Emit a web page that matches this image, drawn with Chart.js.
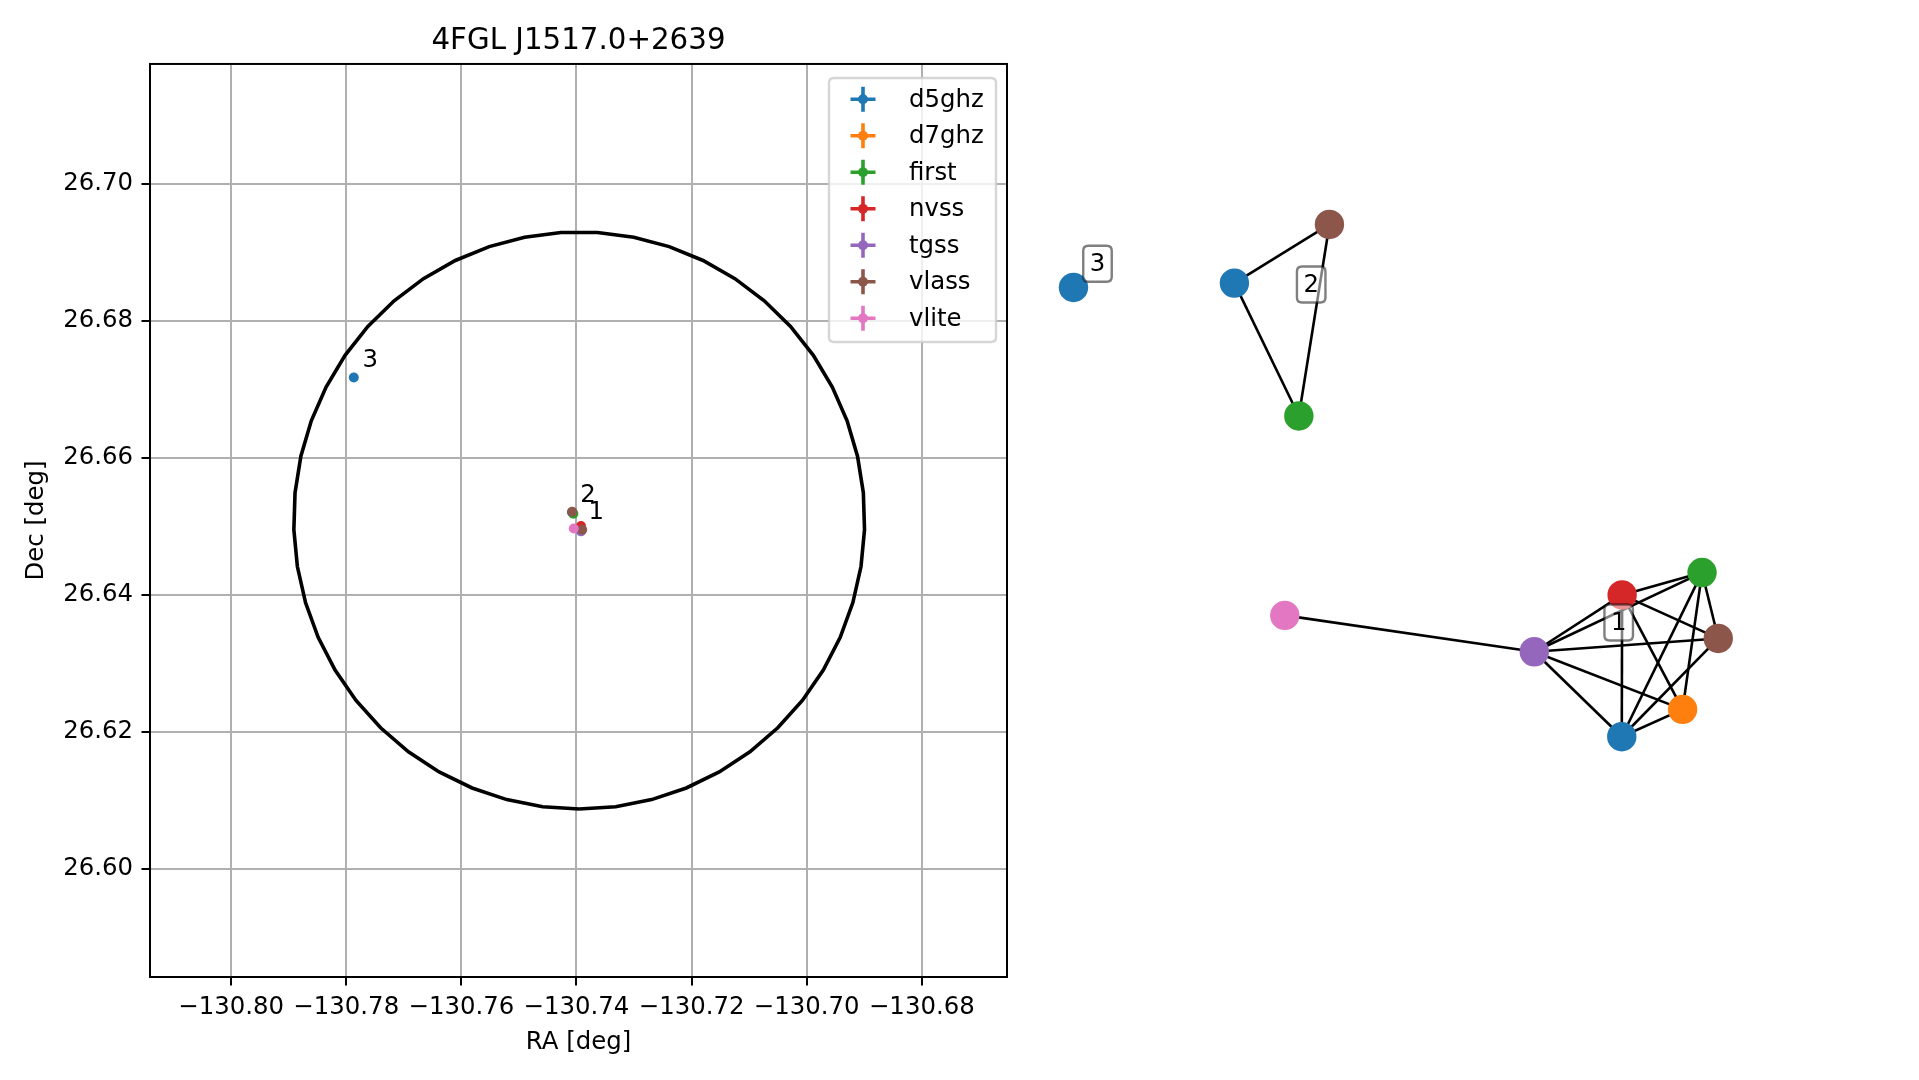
<!DOCTYPE html>
<html>
<head>
<meta charset="utf-8">
<script src="https://cdn.jsdelivr.net/npm/chart.js@4.4.1/dist/chart.umd.min.js"></script>
<style>
  body { margin: 0; background: #fff; }
  #wrap { position: relative; width: 1919px; height: 1080px; }
  canvas { position: absolute; top: 0; }
</style>
</head>
<body>
<div id="wrap">
  <canvas id="graph" width="889" height="1080" style="left:1030px"></canvas>
  <canvas id="sky" width="1030" height="1080" style="left:0"></canvas>
</div>
<script>
const FONT = "'DejaVu Sans', sans-serif";

// surveys and their colours
const surveys = ['d5ghz', 'd7ghz', 'first', 'nvss', 'tgss', 'vlass', 'vlite'];
const surveyColors = ['#1f77b4', '#ff7f0e', '#2ca02c', '#d62728', '#9467bd', '#8c564b', '#e377c2'];

// radio sources: survey, group, sky position, position in the graph layout
const srcSurvey = ['d5ghz', 'd7ghz', 'first', 'nvss', 'tgss', 'vlass', 'vlite', 'd5ghz', 'first', 'vlass', 'd5ghz'];
const srcGroup  = [1, 1, 1, 1, 1, 1, 1, 2, 2, 2, 3];
const srcRA  = [-130.73939, -130.73931, -130.73922, -130.73922, -130.73922, -130.73901, -130.74047, -130.74078, -130.74054, -130.74075, -130.77869];
const srcDec = [26.64958, 26.64950, 26.64972, 26.65004, 26.64926, 26.64950, 26.64968, 26.65206, 26.65182, 26.65212, 26.67172];
const nodeX = [0.616, 0.785, 0.839, 0.617, 0.373, 0.884, -0.320, -0.460, -0.281, -0.196, -0.907];
const nodeY = [-0.602, -0.526, -0.146, -0.208, -0.366, -0.329, -0.265, 0.658, 0.289, 0.821, 0.646];

// graph edges (indices into the source arrays)
const edgeFrom = [6, 4, 4, 4, 4, 4, 3, 3, 3, 3, 2, 2, 2, 5, 1, 7, 7, 9];
const edgeTo   = [4, 3, 2, 5, 1, 0, 2, 5, 1, 0, 5, 1, 0, 0, 0, 9, 8, 8];

// group labels
const groupNames = ['1', '2', '3'];
const labelRA  = [-130.73658, -130.73800, -130.77584];
const labelDec = [26.65225, 26.65471, 26.67443];
const labelX = [0.6075, -0.2467, -0.8403];
const labelY = [-0.2847, 0.6542, 0.7117];

// 4FGL error circle
const circleRA = -130.73953, circleDec = 26.65085;
const circleRadRA = 0.0496, circleRadDec = 0.04213;
const circleSegments = 49;

// axes
const raTicks = [-130.80, -130.78, -130.76, -130.74, -130.72, -130.70, -130.68];
const decTicks = [26.60, 26.62, 26.64, 26.66, 26.68, 26.70];
const raRange = [-130.8141, -130.6652];
const decRange = [26.5842, 26.7175];

const fmt = v => v.toFixed(2).replace('-', '\u2212');

// ---------- left: sky plot ----------
const circlePts = [];
for (let k = 0; k <= circleSegments; k++) {
  const t = 2 * Math.PI * k / circleSegments;
  circlePts.push({ x: circleRA + circleRadRA * Math.sin(t), y: circleDec - circleRadDec * Math.cos(t) });
}

const skyDatasets = surveys.map((s, i) => ({
  label: s,
  data: srcSurvey.map((v, j) => v === s ? { x: srcRA[j], y: srcDec[j] } : null).filter(p => p),
  backgroundColor: surveyColors[i],
  borderWidth: 0,
  pointRadius: 5,
  order: surveys.length - i
}));
skyDatasets.push({
  label: 'circle',
  data: circlePts,
  showLine: true,
  borderColor: '#000',
  borderWidth: 3.6,
  pointRadius: 0,
  order: 20
});

const frame = {
  id: 'frame',
  afterDatasetsDraw(chart) {
    const { ctx, chartArea: a } = chart;
    ctx.save();
    ctx.strokeStyle = '#000';
    ctx.lineWidth = 2;
    ctx.strokeRect(a.left, a.top, a.right - a.left, a.bottom - a.top);
    ctx.restore();
  }
};

const skyLabels = {
  id: 'skyLabels',
  afterDatasetsDraw(chart) {
    const { ctx, scales: { x, y } } = chart;
    ctx.save();
    ctx.font = '24.4px ' + FONT;
    ctx.fillStyle = '#000';
    ctx.textAlign = 'center';
    ctx.textBaseline = 'middle';
    groupNames.forEach((g, i) => ctx.fillText(g, x.getPixelForValue(labelRA[i]), y.getPixelForValue(labelDec[i]) + 2));
    ctx.restore();
  }
};

function roundRect(ctx, x, y, w, h, r) {
  ctx.beginPath();
  ctx.moveTo(x + r, y);
  ctx.lineTo(x + w - r, y);
  ctx.quadraticCurveTo(x + w, y, x + w, y + r);
  ctx.lineTo(x + w, y + h - r);
  ctx.quadraticCurveTo(x + w, y + h, x + w - r, y + h);
  ctx.lineTo(x + r, y + h);
  ctx.quadraticCurveTo(x, y + h, x, y + h - r);
  ctx.lineTo(x, y + r);
  ctx.quadraticCurveTo(x, y, x + r, y);
  ctx.closePath();
}

const skyLegend = {
  id: 'skyLegend',
  afterDraw(chart) {
    const { ctx, chartArea: a } = chart;
    const w = 167, h = 264;
    const left = a.right - 11 - w, top = a.top + 14;
    ctx.save();
    roundRect(ctx, left, top, w, h, 5);
    ctx.fillStyle = 'rgba(255,255,255,0.8)';
    ctx.fill();
    ctx.strokeStyle = 'rgba(204,204,204,0.8)';
    ctx.lineWidth = 2.4;
    ctx.stroke();
    ctx.font = '24.4px ' + FONT;
    ctx.textBaseline = 'middle';
    ctx.textAlign = 'left';
    surveys.forEach((s, i) => {
      const cy = top + 21.3 + i * 36.5;
      const cx = left + 34;
      ctx.strokeStyle = surveyColors[i];
      ctx.fillStyle = surveyColors[i];
      ctx.lineWidth = 3.6;
      ctx.beginPath();
      ctx.moveTo(cx - 12.5, cy); ctx.lineTo(cx + 12.5, cy);
      ctx.moveTo(cx, cy - 12.5); ctx.lineTo(cx, cy + 12.5);
      ctx.stroke();
      ctx.beginPath();
      ctx.arc(cx, cy, 5, 0, 2 * Math.PI);
      ctx.fill();
      ctx.fillStyle = '#000';
      ctx.fillText(s, left + 80, cy + 1);
    });
    ctx.restore();
  }
};

const axisCommon = {
  type: 'linear',
  grid: { color: '#b0b0b0', lineWidth: 2, tickLength: 8.5, tickColor: '#000', tickWidth: 2 },
  border: { display: true, color: '#000', width: 2 },
  ticks: { color: '#000', font: { family: FONT, size: 24.4 }, callback: v => fmt(v) }
};

new Chart(document.getElementById('sky'), {
  type: 'scatter',
  data: { datasets: skyDatasets },
  options: {
    responsive: false,
    animation: false,
    layout: { autoPadding: false, padding: { left: 0, right: 23, top: 0, bottom: 0 } },
    plugins: {
      legend: { display: false },
      tooltip: { enabled: false },
      title: {
        display: true,
        text: '4FGL J1517.0+2639',
        fullSize: false,
        color: '#000',
        font: { family: FONT, size: 29.3, weight: 'normal' },
        padding: { top: 23.8, bottom: 5 }
      }
    },
    scales: {
      x: {
        ...axisCommon,
        min: raRange[0], max: raRange[1],
        ticks: { ...axisCommon.ticks, padding: 8, maxRotation: 0 },
        afterBuildTicks: s => { s.ticks = raTicks.map(v => ({ value: v })); },
        afterFit: s => { s.height = 103; },
        title: { display: true, text: 'RA [deg]', color: '#000', font: { family: FONT, size: 24.4 }, padding: { top: 0, bottom: 22.7 } }
      },
      y: {
        ...axisCommon,
        min: decRange[0], max: decRange[1],
        ticks: { ...axisCommon.ticks, padding: 8.5 },
        afterBuildTicks: s => { s.ticks = decTicks.map(v => ({ value: v })); },
        afterFit: s => { s.width = 150; },
        title: { display: true, text: 'Dec [deg]', color: '#000', font: { family: FONT, size: 24.4 }, padding: { top: 22.1, bottom: 0 } }
      }
    }
  },
  plugins: [frame, skyLabels, skyLegend]
});

// ---------- right: association graph ----------
const graphDatasets = edgeFrom.map((a, i) => ({
  data: [{ x: nodeX[a], y: nodeY[a] }, { x: nodeX[edgeTo[i]], y: nodeY[edgeTo[i]] }],
  showLine: true,
  borderColor: '#000',
  borderWidth: 2.6,
  pointRadius: 0,
  order: 5
}));
graphDatasets.push({
  data: nodeX.map((v, i) => ({ x: v, y: nodeY[i] })),
  backgroundColor: srcSurvey.map(s => surveyColors[surveys.indexOf(s)]),
  borderWidth: 0,
  pointRadius: 14.7,
  order: 0
});

const graphLabels = {
  id: 'graphLabels',
  afterDatasetsDraw(chart) {
    const { ctx, scales: { x, y } } = chart;
    ctx.save();
    ctx.font = '24.4px ' + FONT;
    ctx.textAlign = 'center';
    ctx.textBaseline = 'middle';
    groupNames.forEach((g, i) => {
      const px = x.getPixelForValue(labelX[i]), py = y.getPixelForValue(labelY[i]);
      const w = ctx.measureText(g).width + 13, h = 36;
      roundRect(ctx, px - w / 2, py - h / 2, w, h, 5);
      ctx.fillStyle = 'rgba(255,255,255,0.5)';
      ctx.fill();
      ctx.strokeStyle = 'rgba(0,0,0,0.5)';
      ctx.lineWidth = 2.4;
      ctx.stroke();
      ctx.fillStyle = '#000';
      ctx.fillText(g, px, py + 1);
    });
    ctx.restore();
  }
};

new Chart(document.getElementById('graph'), {
  type: 'scatter',
  data: { datasets: graphDatasets },
  options: {
    responsive: false,
    animation: false,
    layout: { autoPadding: false, padding: 0 },
    plugins: { legend: { display: false }, tooltip: { enabled: false } },
    scales: {
      x: { type: 'linear', display: false, min: -1.02778, max: 1.44167 },
      y: { type: 'linear', display: false, min: -1.55556, max: 1.44444 }
    }
  },
  plugins: [graphLabels]
});
</script>
</body>
</html>
